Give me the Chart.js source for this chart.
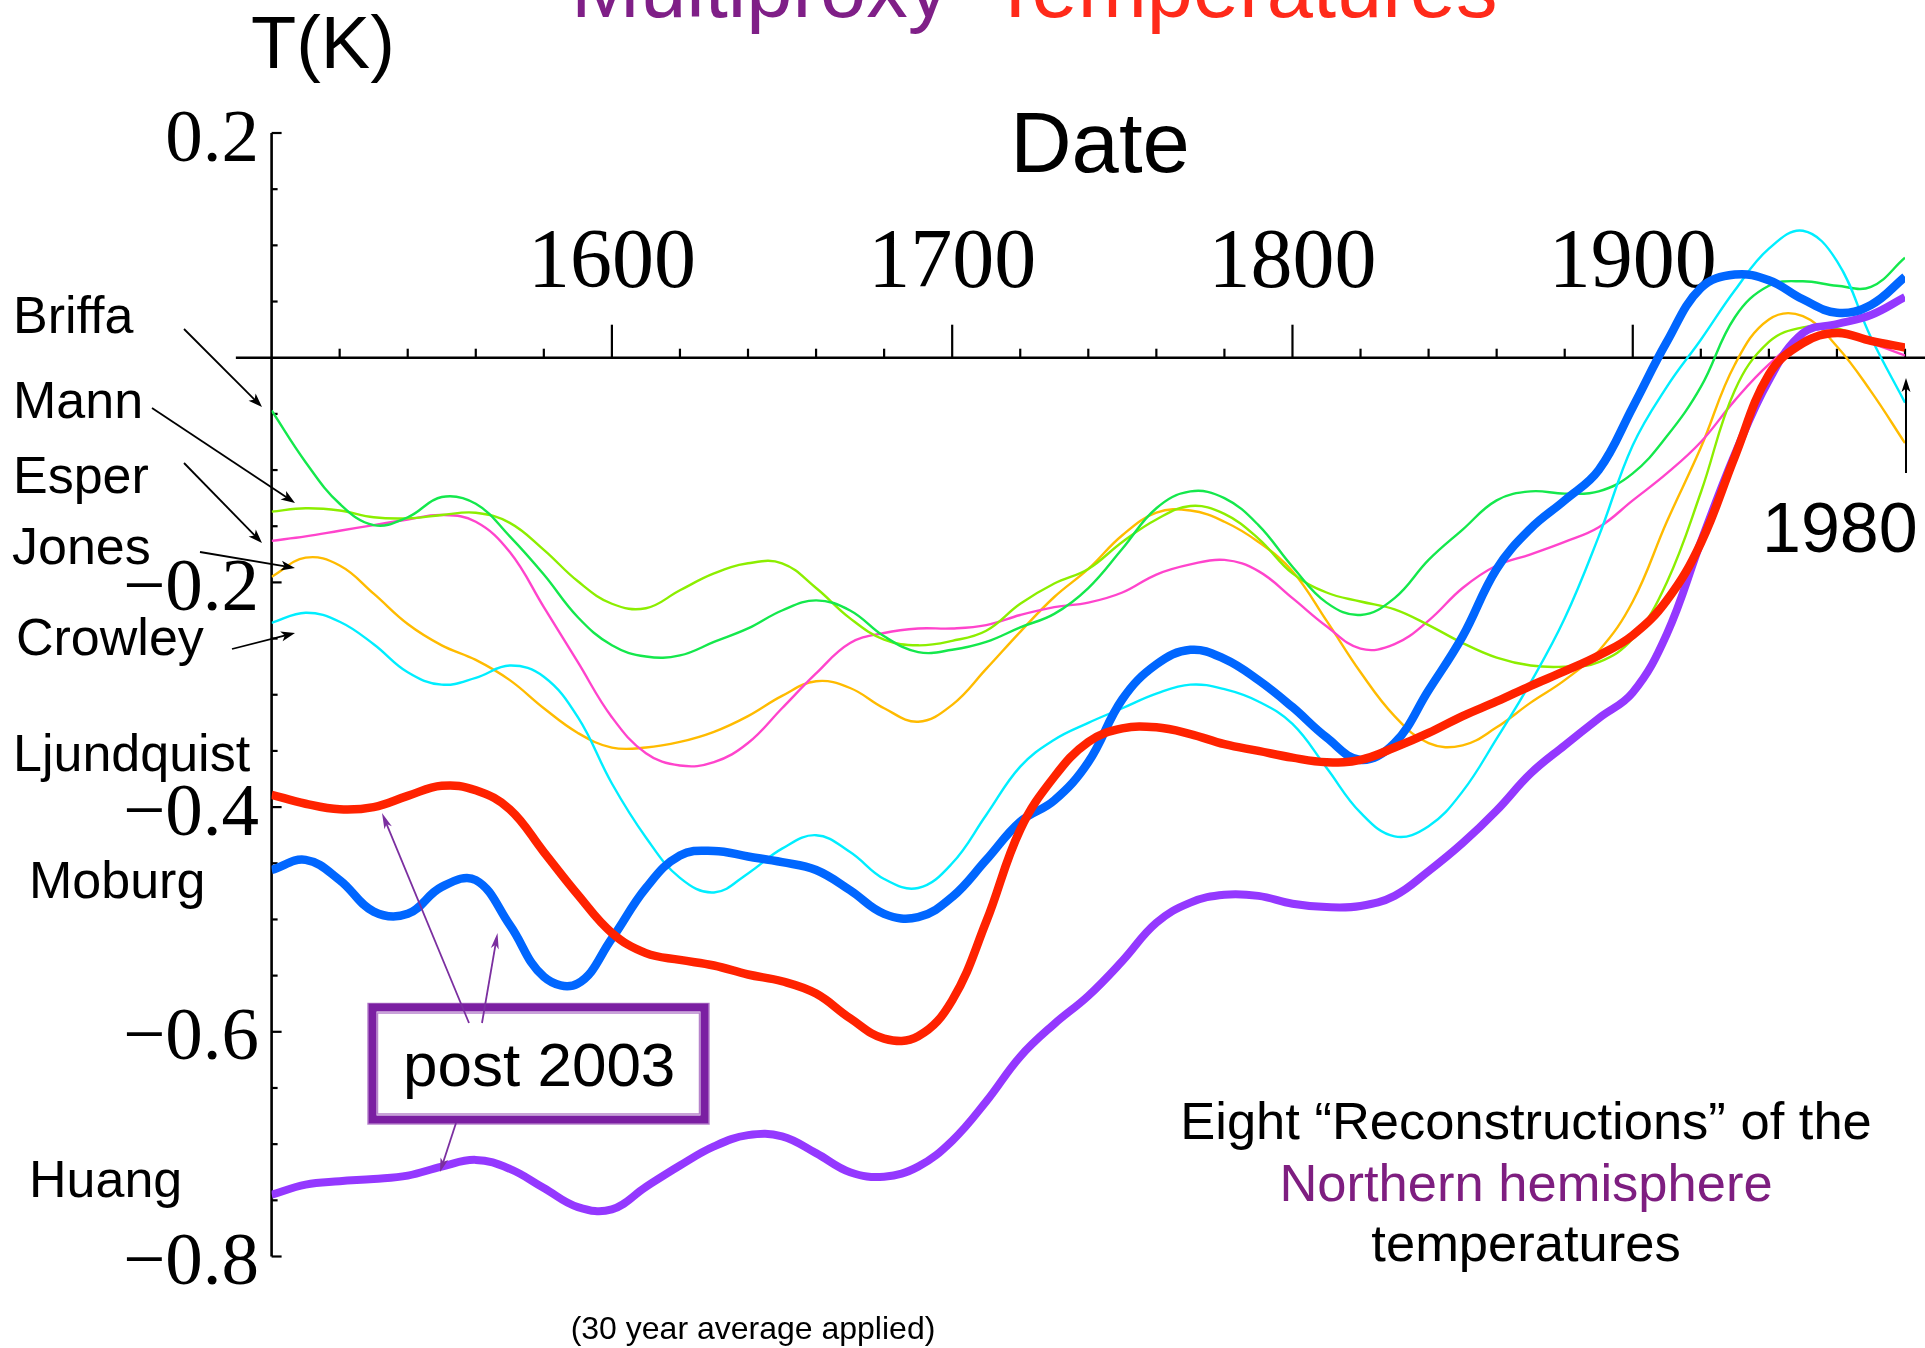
<!DOCTYPE html>
<html>
<head>
<meta charset="utf-8">
<title>Multiproxy Temperatures</title>
<script src="https://cdn.jsdelivr.net/npm/chart.js@4.4.1/dist/chart.umd.min.js"></script>
<style>
  html, body { margin: 0; padding: 0; background: #ffffff; }
  #wrap { position: relative; width: 1925px; height: 1348px; }
</style>
</head>
<body>
<div id="wrap"><canvas id="chart" width="1925" height="1348"></canvas></div>
<script>
// ---- data: 30-year smoothed reconstructions, anomaly in K, one value per decade ----
const years = [1500,1510,1520,1530,1540,1550,1560,1570,1580,1590,
               1600,1610,1620,1630,1640,1650,1660,1670,1680,1690,
               1700,1710,1720,1730,1740,1750,1760,1770,1780,1790,
               1800,1810,1820,1830,1840,1850,1860,1870,1880,1890,
               1900,1910,1920,1930,1940,1950,1960,1970,1980];

const briffa = [-0.047,-0.093,-0.130,-0.149,-0.142,-0.124,-0.130,-0.159,-0.193,-0.231,
                -0.256,-0.266,-0.265,-0.253,-0.241,-0.225,-0.216,-0.225,-0.248,-0.262,
                -0.260,-0.253,-0.240,-0.228,-0.205,-0.170,-0.134,-0.119,-0.125,-0.149,
                -0.186,-0.218,-0.229,-0.214,-0.180,-0.153,-0.127,-0.119,-0.121,-0.119,
                -0.103,-0.070,-0.026,0.036,0.064,0.068,0.064,0.063,0.089];

const mann = [-0.137,-0.134,-0.136,-0.142,-0.143,-0.140,-0.138,-0.147,-0.171,-0.199,
              -0.219,-0.223,-0.207,-0.192,-0.183,-0.183,-0.205,-0.232,-0.251,-0.256,
              -0.252,-0.243,-0.219,-0.201,-0.188,-0.164,-0.144,-0.132,-0.139,-0.161,
              -0.192,-0.209,-0.217,-0.224,-0.238,-0.254,-0.267,-0.274,-0.275,-0.271,
              -0.250,-0.200,-0.120,-0.029,0.014,0.027,0.026,0.015,0.010];

const esper = [-0.163,-0.159,-0.154,-0.149,-0.144,-0.140,-0.146,-0.173,-0.222,-0.271,
               -0.320,-0.352,-0.363,-0.360,-0.343,-0.312,-0.281,-0.254,-0.245,-0.241,
               -0.241,-0.238,-0.229,-0.222,-0.218,-0.209,-0.193,-0.184,-0.180,-0.190,
               -0.214,-0.239,-0.259,-0.255,-0.234,-0.205,-0.185,-0.175,-0.164,-0.151,
               -0.127,-0.103,-0.075,-0.038,-0.006,0.017,0.022,0.013,0.002];

const jones = [-0.195,-0.178,-0.185,-0.210,-0.237,-0.256,-0.269,-0.287,-0.312,-0.334,
               -0.347,-0.347,-0.342,-0.333,-0.319,-0.301,-0.288,-0.294,-0.312,-0.324,
               -0.309,-0.277,-0.244,-0.213,-0.188,-0.158,-0.138,-0.136,-0.146,-0.164,
               -0.190,-0.234,-0.280,-0.319,-0.343,-0.345,-0.329,-0.307,-0.287,-0.261,
               -0.217,-0.146,-0.080,-0.006,0.034,0.037,0.010,-0.030,-0.076];

const crowley = [-0.236,-0.227,-0.235,-0.255,-0.280,-0.291,-0.285,-0.274,-0.284,-0.320,
                 -0.379,-0.427,-0.463,-0.476,-0.459,-0.437,-0.425,-0.440,-0.464,-0.472,
                 -0.450,-0.407,-0.364,-0.340,-0.325,-0.312,-0.299,-0.291,-0.295,-0.306,
                 -0.326,-0.365,-0.405,-0.426,-0.417,-0.386,-0.339,-0.289,-0.232,-0.159,
                 -0.078,-0.026,0.016,0.060,0.097,0.113,0.086,0.018,-0.040];

const ljundquist = [-0.389,-0.397,-0.402,-0.400,-0.390,-0.381,-0.385,-0.402,-0.440,-0.478,
                    -0.512,-0.530,-0.536,-0.541,-0.549,-0.555,-0.566,-0.588,-0.606,-0.604,
                    -0.572,-0.502,-0.420,-0.373,-0.342,-0.330,-0.329,-0.335,-0.344,-0.350,
                    -0.356,-0.360,-0.358,-0.347,-0.334,-0.319,-0.306,-0.292,-0.279,-0.265,
                    -0.247,-0.216,-0.165,-0.088,-0.015,0.013,0.022,0.015,0.009];

const moburg = [-0.456,-0.447,-0.465,-0.493,-0.495,-0.471,-0.465,-0.505,-0.551,-0.557,
                -0.517,-0.472,-0.443,-0.439,-0.444,-0.449,-0.456,-0.474,-0.495,-0.498,
                -0.480,-0.447,-0.413,-0.394,-0.360,-0.304,-0.273,-0.260,-0.268,-0.287,
                -0.311,-0.338,-0.358,-0.343,-0.296,-0.248,-0.188,-0.152,-0.127,-0.100,
                -0.044,0.014,0.062,0.074,0.069,0.052,0.040,0.047,0.072];

const huang = [-0.745,-0.736,-0.733,-0.731,-0.728,-0.720,-0.714,-0.722,-0.739,-0.756,
               -0.758,-0.738,-0.719,-0.702,-0.692,-0.693,-0.708,-0.725,-0.729,-0.720,
               -0.697,-0.662,-0.622,-0.593,-0.568,-0.537,-0.503,-0.485,-0.478,-0.479,
               -0.486,-0.489,-0.488,-0.479,-0.457,-0.432,-0.403,-0.370,-0.345,-0.321,
               -0.298,-0.246,-0.164,-0.086,-0.020,0.022,0.030,0.038,0.054];

const seriesNames = ['Briffa','Mann','Esper','Jones','Crowley','Ljundquist','Moburg','Huang'];
const seriesValues = [briffa, mann, esper, jones, crowley, ljundquist, moburg, huang];
const seriesColors = ['#14E84C','#8CEE00','#FF44CC','#FFBB00','#00EEFF','#FF2200','#0066FF','#9438FF'];
const seriesWidths = [2.4, 2.4, 2.4, 2.4, 2.4, 8.5, 8.5, 8];
const seriesOrder  = [4, 5, 6, 7, 3, 0, 1, 2];   // lower = drawn on top

const yTickValues = [0.2, -0.2, -0.4, -0.6, -0.8];
const yTickLabels = ['0.2', '\u22120.2', '\u22120.4', '\u22120.6', '\u22120.8'];
const xTickValues = [1600, 1700, 1800, 1900];
const xTickLabels = ['1600', '1700', '1800', '1900'];

// ---- helpers ----
const SANS = '"Liberation Sans", Arial, Helvetica, sans-serif';
const SERIF = '"Liberation Serif", "Times New Roman", Times, serif';
const PURPLE = '#7B1FA2';

function arrow(ctx, x1, y1, x2, y2, color, lw, headLen, headHalf) {
  const ang = Math.atan2(y2 - y1, x2 - x1);
  ctx.save();
  ctx.strokeStyle = color; ctx.fillStyle = color; ctx.lineWidth = lw;
  ctx.beginPath();
  ctx.moveTo(x1, y1);
  ctx.lineTo(x2 - Math.cos(ang) * headLen * 0.7, y2 - Math.sin(ang) * headLen * 0.7);
  ctx.stroke();
  ctx.beginPath();
  ctx.moveTo(x2, y2);
  ctx.lineTo(x2 - Math.cos(ang) * headLen - Math.sin(ang) * headHalf,
             y2 - Math.sin(ang) * headLen + Math.cos(ang) * headHalf);
  ctx.lineTo(x2 - Math.cos(ang) * headLen * 0.75, y2 - Math.sin(ang) * headLen * 0.75);
  ctx.lineTo(x2 - Math.cos(ang) * headLen + Math.sin(ang) * headHalf,
             y2 - Math.sin(ang) * headLen - Math.cos(ang) * headHalf);
  ctx.closePath();
  ctx.fill();
  ctx.restore();
}

function text(ctx, str, x, y, font, color, align) {
  ctx.font = font; ctx.fillStyle = color; ctx.textAlign = align || 'left';
  ctx.textBaseline = 'alphabetic';
  ctx.fillText(str, x, y);
}

// axes crossing at zero, ticks and tick labels
const axesPlugin = {
  id: 'axesPlugin',
  beforeDatasetsDraw(chart) {
    const { ctx } = chart;
    const xs = chart.scales.x, ys = chart.scales.y;
    const y0 = ys.getPixelForValue(0);
    const xl = xs.getPixelForValue(xs.min);
    ctx.save();
    ctx.strokeStyle = '#000'; ctx.lineWidth = 2.6; ctx.lineCap = 'butt';
    // horizontal axis through T = 0
    ctx.beginPath();
    ctx.moveTo(xs.getPixelForValue(1489.5), y0);
    ctx.lineTo(chart.width, y0);
    ctx.stroke();
    // vertical axis
    ctx.beginPath();
    ctx.moveTo(xl, ys.getPixelForValue(ys.max));
    ctx.lineTo(xl, ys.getPixelForValue(ys.min));
    ctx.stroke();
    // vertical axis ticks, every 0.05
    ctx.lineWidth = 2.2;
    for (let k = 0; k <= 20; k++) {
      const v = ys.max - k * 0.05;
      if (Math.abs(v) < 1e-6) continue;
      const major = yTickValues.some(t => Math.abs(t - v) < 1e-6);
      const py = ys.getPixelForValue(v);
      ctx.beginPath();
      ctx.moveTo(xl, py);
      ctx.lineTo(xl + (major ? 10 : 6), py);
      ctx.stroke();
    }
    // horizontal axis ticks, every 20 years, drawn upward
    for (let yr = 1520; yr <= xs.max; yr += 20) {
      const major = xTickValues.includes(yr);
      const px = xs.getPixelForValue(yr);
      ctx.beginPath();
      ctx.moveTo(px, y0);
      ctx.lineTo(px, y0 - (major ? 33 : 9));
      ctx.stroke();
    }
    // tick labels
    yTickValues.forEach((v, i) => {
      text(ctx, yTickLabels[i], xl - 12.5, ys.getPixelForValue(v) + 27.5, '75px ' + SERIF, '#000', 'right');
    });
    xTickValues.forEach((v, i) => {
      text(ctx, xTickLabels[i], xs.getPixelForValue(v), y0 - 71, '84px ' + SERIF, '#000', 'center');
    });
    ctx.restore();
  },
  afterDatasetsDraw(chart) {
    const { ctx } = chart;
    ctx.save();
    // title
    text(ctx, 'Multiproxy', 571, 17, '83px ' + SANS, '#7F1F87');
    text(ctx, 'Temperatures', 990, 17, '83px ' + SANS, '#FF2A1A');
    // axis titles
    text(ctx, 'T(K)', 251, 68, '74px ' + SANS, '#000');
    text(ctx, 'Date', 1100, 171.5, '85px ' + SANS, '#000', 'center');

    // series names at the left, with pointers to the curve starts
    const namePos = [[13, 333], [13, 418], [13, 493], [12, 564], [16, 655], [13, 771], [29, 898], [29, 1197]];
    seriesNames.forEach((n, i) => text(ctx, n, namePos[i][0], namePos[i][1], '52px ' + SANS, '#000'));
    arrow(ctx, 184, 329, 262, 407, '#000', 1.8, 14, 5);
    arrow(ctx, 152, 408, 295, 503, '#000', 1.8, 14, 5);
    arrow(ctx, 184, 463, 262, 543, '#000', 1.8, 14, 5);
    arrow(ctx, 200, 552, 295, 568, '#000', 1.8, 14, 5);
    arrow(ctx, 232, 649, 295, 633, '#000', 1.8, 14, 5);

    // end-year marker
    arrow(ctx, 1906, 473, 1906, 378, '#000', 2, 14, 4.5);
    text(ctx, '1980', 1762, 552, '70px ' + SANS, '#000');

    // "post 2003" frame
    ctx.strokeStyle = PURPLE;
    ctx.lineWidth = 8;
    ctx.strokeRect(372.5, 1007.5, 332, 112);
    ctx.globalAlpha = 0.55;
    ctx.lineWidth = 1.5;
    ctx.strokeRect(377.5, 1013, 322, 101);
    ctx.strokeRect(368, 1003.5, 341, 120.5);
    ctx.globalAlpha = 1;
    text(ctx, 'post 2003', 403, 1086, '62px ' + SANS, '#000');
    arrow(ctx, 469, 1023, 382, 813, '#7B2FA0', 1.8, 16, 4);
    arrow(ctx, 482, 1023, 497.5, 933, '#7B2FA0', 1.8, 16, 4);
    arrow(ctx, 456, 1123, 440, 1172, '#7B2FA0', 1.8, 14, 4);

    // notes
    text(ctx, 'Eight \u201CReconstructions\u201D of the', 1526, 1139, '52.5px ' + SANS, '#000', 'center');
    text(ctx, 'Northern hemisphere', 1526, 1200.5, '52.5px ' + SANS, '#7E1E80', 'center');
    text(ctx, 'temperatures', 1526, 1260.5, '52.5px ' + SANS, '#000', 'center');
    text(ctx, '(30 year average applied)', 753, 1339, '32px ' + SANS, '#000', 'center');
    ctx.restore();
  }
};

const datasets = seriesNames.map((name, i) => ({
  label: name,
  data: years.map((yr, j) => ({ x: yr, y: seriesValues[i][j] })),
  borderColor: seriesColors[i],
  backgroundColor: seriesColors[i],
  borderWidth: seriesWidths[i],
  pointRadius: 0,
  fill: false,
  tension: 0.4,
  borderJoinStyle: 'round',
  borderCapStyle: 'butt',
  order: seriesOrder[i]
}));

new Chart(document.getElementById('chart'), {
  type: 'line',
  data: { datasets },
  options: {
    responsive: false,
    devicePixelRatio: 1,
    animation: false,
    events: [],
    layout: { padding: { left: 271.6, right: 20, top: 133, bottom: 91.5 } },
    plugins: { legend: { display: false }, tooltip: { enabled: false }, title: { display: false } },
    scales: {
      x: { type: 'linear', min: 1500, max: 1980, display: false },
      y: { type: 'linear', min: -0.8, max: 0.2, display: false }
    }
  },
  plugins: [axesPlugin]
});
</script>
</body>
</html>
